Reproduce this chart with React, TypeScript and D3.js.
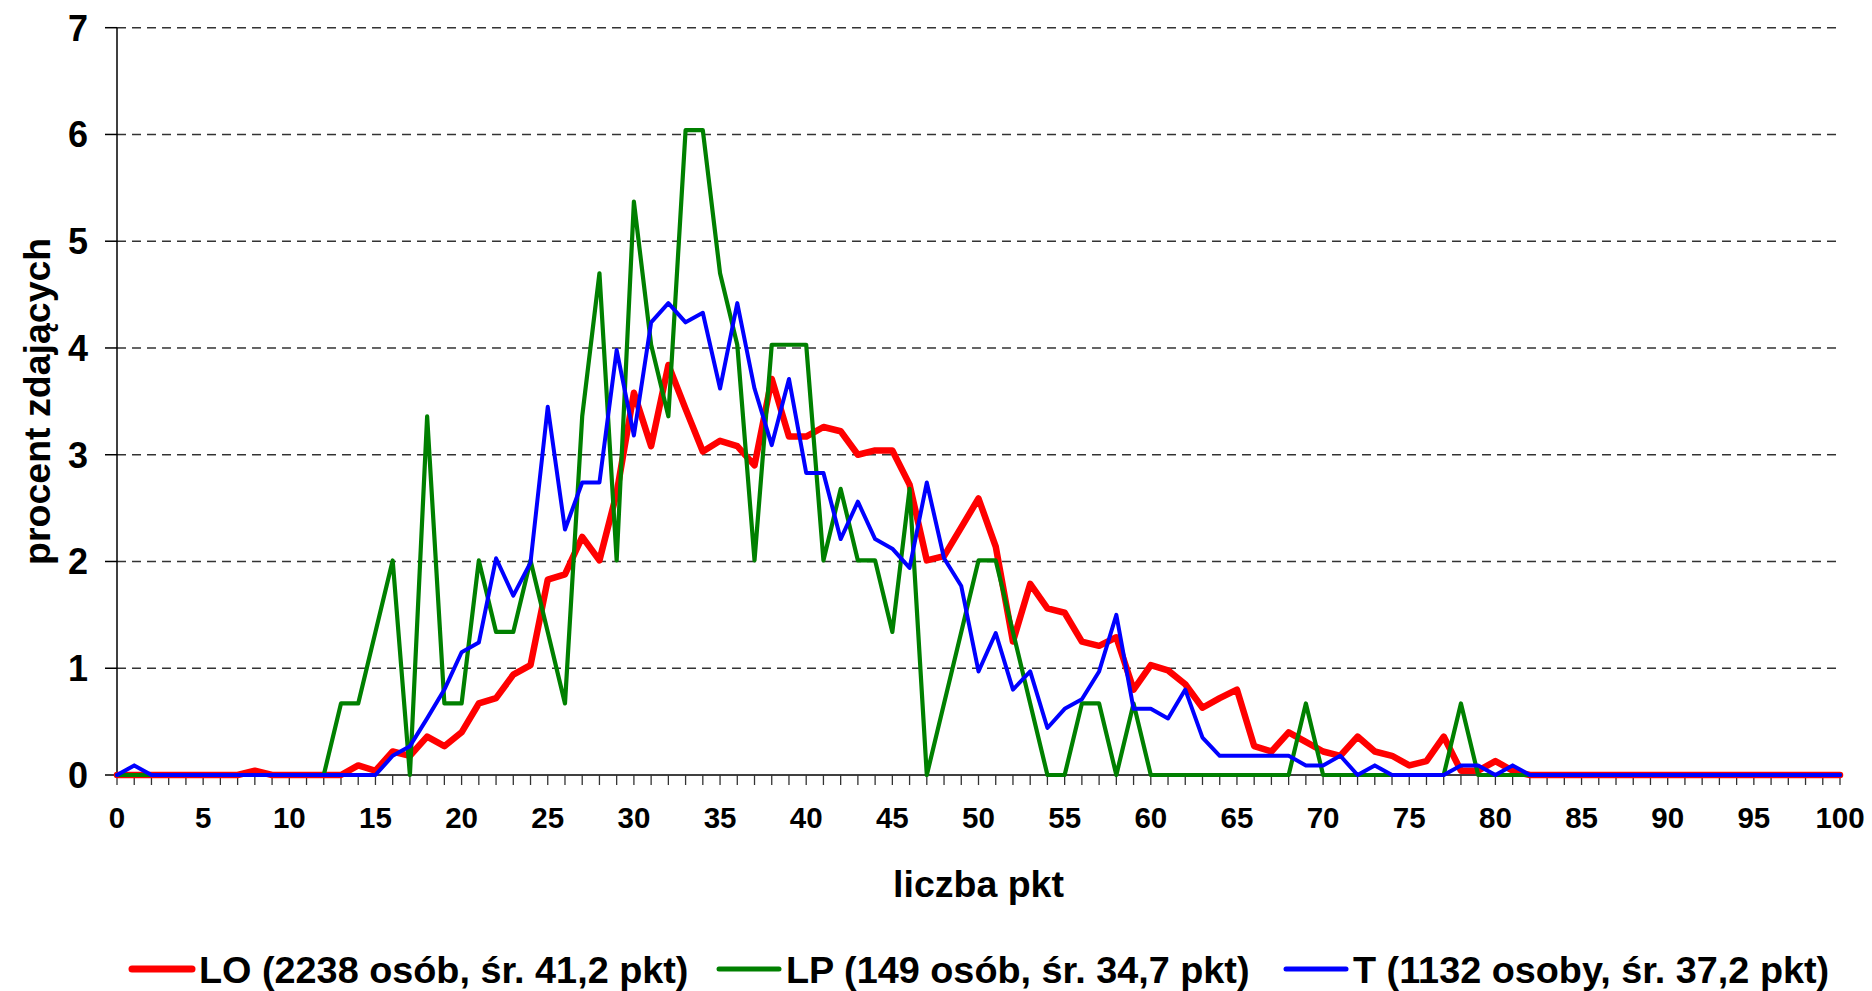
import React from 'react';
import * as d3 from 'd3';

// punkty 0..100
const punkty = d3.range(0, 101);

const seriaLO = [
  0, 0, 0, 0, 0, 0, 0, 0, 0.04, 0, 0, 0, 0, 0, 0.09, 0.04, 0.22, 0.18, 0.36, 0.27,
  0.40, 0.67, 0.72, 0.94, 1.03, 1.83, 1.88, 2.23, 2.01, 2.64, 3.58, 3.08, 3.84, 3.43, 3.03, 3.13,
  3.08, 2.90, 3.71, 3.17, 3.17, 3.26, 3.22, 3.00, 3.04, 3.04, 2.72, 2.01, 2.05, 2.32, 2.59,
  2.14, 1.25, 1.79, 1.56, 1.52, 1.25, 1.21, 1.29, 0.80, 1.03, 0.98, 0.85, 0.63, 0.72, 0.80,
  0.27, 0.22, 0.40, 0.31, 0.22, 0.18, 0.36, 0.22, 0.18, 0.09, 0.13, 0.36, 0.04, 0.04, 0.13,
  0.04, 0, 0, 0, 0, 0, 0, 0, 0, 0, 0, 0, 0, 0, 0, 0, 0, 0, 0, 0,
];

const seriaLP = [
  0, 0, 0, 0, 0, 0, 0, 0, 0, 0, 0, 0, 0, 0.67, 0.67, 1.34, 2.01, 0, 3.36, 0.67,
  0.67, 2.01, 1.34, 1.34, 2.01, 1.34, 0.67, 3.36, 4.70, 2.01, 5.37, 4.03, 3.36, 6.04, 6.04, 4.70,
  4.03, 2.01, 4.03, 4.03, 4.03, 2.01, 2.68, 2.01, 2.01, 1.34, 2.68, 0, 0.67, 1.34, 2.01,
  2.01, 1.34, 0.67, 0, 0, 0.67, 0.67, 0, 0.67, 0, 0, 0, 0, 0, 0,
  0, 0, 0, 0.67, 0, 0, 0, 0, 0, 0, 0, 0, 0.67, 0, 0,
  0, 0, 0, 0, 0, 0, 0, 0, 0, 0, 0, 0, 0, 0, 0, 0, 0, 0, 0, 0,
];

const seriaT = [
  0, 0.09, 0, 0, 0, 0, 0, 0, 0, 0, 0, 0, 0, 0, 0, 0, 0.18, 0.27, 0.53, 0.80,
  1.15, 1.24, 2.03, 1.68, 1.99, 3.45, 2.30, 2.74, 2.74, 3.98, 3.18, 4.24, 4.42, 4.24, 4.33, 3.62,
  4.42, 3.62, 3.09, 3.71, 2.83, 2.83, 2.21, 2.56, 2.21, 2.12, 1.94, 2.74, 2.03, 1.77, 0.97,
  1.33, 0.80, 0.97, 0.44, 0.62, 0.71, 0.97, 1.50, 0.62, 0.62, 0.53, 0.80, 0.35, 0.18, 0.18,
  0.18, 0.18, 0.18, 0.09, 0.09, 0.18, 0, 0.09, 0, 0, 0, 0, 0.09, 0.09, 0,
  0.09, 0, 0, 0, 0, 0, 0, 0, 0, 0, 0, 0, 0, 0, 0, 0, 0, 0, 0, 0,
];

const etykietyX = [0, 5, 10, 15, 20, 25, 30, 35, 40, 45, 50, 55, 60, 65, 70, 75, 80, 85, 90, 95, 100];
const etykietyY = [0, 1, 2, 3, 4, 5, 6, 7];

const legenda = [
  { nazwa: 'LO (2238 osób, śr. 41,2 pkt)', kolor: '#ff0000' },
  { nazwa: 'LP (149 osób, śr. 34,7 pkt)', kolor: '#008000' },
  { nazwa: 'T (1132 osoby, śr. 37,2 pkt)', kolor: '#0000ff' },
];

const font = 'Liberation Sans, Arial, Helvetica, sans-serif';

export default function App() {
  const width = 1872;
  const height = 991;
  const margin = { top: 27.7, left: 117, bottom: 216, right: 32 };

  const x = d3.scaleLinear().domain([0, 100]).range([margin.left, width - margin.right]);
  const y = d3.scaleLinear().domain([0, 7]).range([height - margin.bottom, margin.top]);

  const linia = (dane: number[]) =>
    d3.line<number>()
      .x((_, i) => x(punkty[i]))
      .y((d) => y(d))(dane) || '';

  const serie = [
    { dane: seriaLO, kolor: '#ff0000', grubosc: 6.5 },
    { dane: seriaLP, kolor: '#008000', grubosc: 4.2 },
    { dane: seriaT, kolor: '#0000ff', grubosc: 4 },
  ];

  // pozycje legendy (próbka linii i tekst)
  const legX = [129, 716, 1283];
  const legY = 969;

  return (
    <svg width={width} height={height} style={{ position: 'absolute', left: 0, top: 0, background: '#fff' }}>
      <rect width={width} height={height} fill="#fff" />

      {/* siatka */}
      {etykietyY.filter((d) => d > 0).map((d) => (
        <line key={'g' + d} x1={x(0)} x2={x(100)} y1={y(d)} y2={y(d)}
          stroke="#333" strokeWidth={1.5} strokeDasharray="9,6" />
      ))}

      {/* os Y */}
      <line x1={x(0)} x2={x(0)} y1={y(0)} y2={y(7)} stroke="#000" strokeWidth={1.5} />
      {etykietyY.map((d) => (
        <g key={'y' + d}>
          <line x1={x(0) - 12} x2={x(0)} y1={y(d)} y2={y(d)} stroke="#000" strokeWidth={1.5} />
          <text x={88} y={y(d)} dy="0.36em" textAnchor="end" fontFamily={font}
            fontWeight="bold" fontSize={36}>{d}</text>
        </g>
      ))}

      {/* os X */}
      <line x1={x(0)} x2={x(100)} y1={y(0)} y2={y(0)} stroke="#000" strokeWidth={1.5} />
      {punkty.map((d) => (
        <line key={'t' + d} x1={x(d)} x2={x(d)} y1={y(0)} y2={y(0) + 10} stroke="#333" strokeWidth={1.3} />
      ))}
      {etykietyX.map((d) => (
        <text key={'x' + d} x={x(d)} y={y(0) + 53} textAnchor="middle" fontFamily={font}
          fontWeight="bold" fontSize={29.5}>{d}</text>
      ))}

      {/* serie */}
      {serie.map((s, i) => (
        <path key={'s' + i} d={linia(s.dane)} fill="none" stroke={s.kolor}
          strokeWidth={s.grubosc} strokeLinejoin="round" strokeLinecap="round" />
      ))}

      {/* tytuly osi */}
      <text x={(x(0) + x(100)) / 2} y={897} textAnchor="middle" fontFamily={font}
        fontWeight="bold" fontSize={37.5}>liczba pkt</text>
      <text transform={`translate(36, ${(y(0) + y(7)) / 2}) rotate(-90)`} textAnchor="middle"
        dy="0.36em" fontFamily={font} fontWeight="bold" fontSize={37.5}>procent zdających</text>

      {/* legenda */}
      {legenda.map((l, i) => (
        <g key={'l' + i}>
          <line x1={legX[i] + 3} x2={legX[i] + 63} y1={legY} y2={legY} stroke={l.kolor}
            strokeWidth={i === 0 ? 7 : 5} strokeLinecap="round" />
          <text x={legX[i] + 70} y={legY} dy="0.36em" fontFamily={font} fontWeight="bold"
            fontSize={37.8}>{l.nazwa}</text>
        </g>
      ))}
    </svg>
  );
}
